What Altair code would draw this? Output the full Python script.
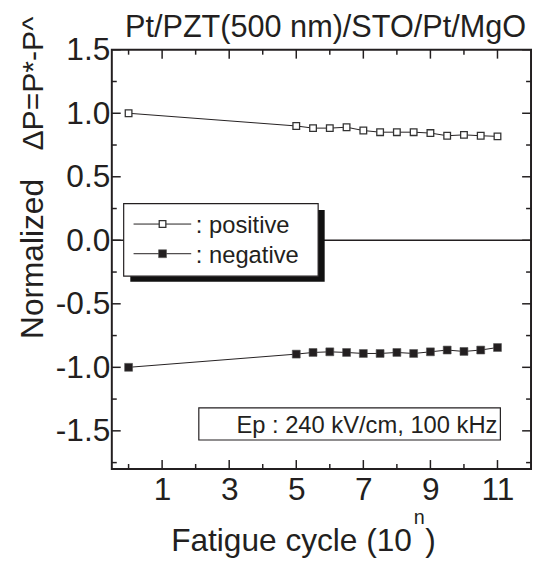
import altair as alt
import pandas as pd

# ---- data ----
cycles = [0, 5, 5.5, 6, 6.5, 7, 7.5, 8, 8.5, 9, 9.5, 10, 10.5, 11]
positive = [1.00, 0.90, 0.883, 0.883, 0.89, 0.864, 0.851, 0.851, 0.851, 0.844, 0.823, 0.83, 0.823, 0.818]
negative = [-1.00, -0.896, -0.883, -0.878, -0.883, -0.891, -0.891, -0.883, -0.891, -0.878, -0.864, -0.875, -0.864, -0.844]

x_major = [1, 3, 5, 7, 9, 11]
x_minor = [0, 2, 4, 6, 8, 10]
y_major = [-1.5, -1.0, -0.5, 0.0, 0.5, 1.0, 1.5]
y_minor = [-1.75, -1.25, -0.75, -0.25, 0.25, 0.75, 1.25]

title_text = "Pt/PZT(500 nm)/STO/Pt/MgO"
y_title_a = "Normalized"
y_title_b = "\u0394P=P*-P^"
x_title_main = "Fatigue cycle (10"
x_title_sup = "n"
x_title_close = ")"
legend_pos = ": positive"
legend_neg = ": negative"
note_text = "Ep : 240 kV/cm, 100 kHz"

W, H = 424, 424
FONT = "Liberation Sans"
INK = "#231f20"

xs = alt.Scale(domain=[-0.5, 12], nice=False, zero=False)
ys = alt.Scale(domain=[-1.8, 1.5], nice=False, zero=False)

df = pd.DataFrame({"cycle": cycles, "positive": positive, "negative": negative})
one = pd.DataFrame({"k": [0]})

x_axis = alt.Axis(values=x_major, format="d", title=None, ticks=False, domain=False,
                  grid=False, labelPadding=6, labelFontSize=32)
y_axis = alt.Axis(values=y_major, title=None, ticks=False, domain=False,
                  grid=False, labelPadding=2, labelFontSize=32,
                  labelExpr="replace(format(datum.value, '.1f'), '\u2212', '-')")

def X(field):
    return alt.X(field, scale=xs, axis=x_axis)

def Y(field):
    return alt.Y(field, scale=ys, axis=y_axis)

layers = []

# zero line
layers.append(alt.Chart(pd.DataFrame({"z": [0.0]})).mark_rule(color=INK, strokeWidth=1.6).encode(
    y=Y("z:Q")))

# inward ticks (x: top & bottom, y: left & right)
def xticks(vals, length):
    d = pd.DataFrame({"v": vals})
    top = alt.Chart(d).mark_rule(color=INK, strokeWidth=1.5).encode(
        x=X("v:Q"), y=alt.value(0), y2=alt.value(length))
    bot = alt.Chart(d).mark_rule(color=INK, strokeWidth=1.5).encode(
        x=X("v:Q"), y=alt.value(H), y2=alt.value(H - length))
    return [top, bot]

def yticks(vals, length):
    d = pd.DataFrame({"v": vals})
    left = alt.Chart(d).mark_rule(color=INK, strokeWidth=1.5).encode(
        y=Y("v:Q"), x=alt.value(0), x2=alt.value(length))
    right = alt.Chart(d).mark_rule(color=INK, strokeWidth=1.5).encode(
        y=Y("v:Q"), x=alt.value(W), x2=alt.value(W - length))
    return [left, right]

layers += xticks(x_major, 9) + xticks(x_minor, 5) + yticks(y_major, 9) + yticks(y_minor, 5)

# data lines and markers
layers.append(alt.Chart(df).mark_line(color=INK, strokeWidth=1).encode(
    x=X("cycle:Q"), y=Y("positive:Q")))
layers.append(alt.Chart(df).mark_line(color=INK, strokeWidth=1).encode(
    x=X("cycle:Q"), y=Y("negative:Q")))
layers.append(alt.Chart(df).mark_square(fill="white", stroke="#333333", strokeWidth=1.3,
                                        size=45, opacity=1).encode(
    x=X("cycle:Q"), y=Y("positive:Q")))
layers.append(alt.Chart(df).mark_square(fill=INK, stroke="#555555", strokeWidth=0.6,
                                        size=64, opacity=1).encode(
    x=X("cycle:Q"), y=Y("negative:Q")))

# legend box with shadow
layers.append(alt.Chart(one).mark_rect(color="#111111").encode(
    x=alt.value(18.7), x2=alt.value(215.3), y=alt.value(162), y2=alt.value(234.7)))
layers.append(alt.Chart(one).mark_rect(fill="white", stroke=INK, strokeWidth=1.2).encode(
    x=alt.value(12), x2=alt.value(208.7), y=alt.value(155.7), y2=alt.value(229)))
for yy, filled, label in [(176.3, False, legend_pos), (206.3, True, legend_neg)]:
    layers.append(alt.Chart(one).mark_rule(color=INK, strokeWidth=1).encode(
        x=alt.value(22), x2=alt.value(80.3), y=alt.value(yy)))
    if filled:
        sq = alt.Chart(one).mark_square(fill=INK, stroke="#555555", strokeWidth=0.6, size=64, opacity=1)
    else:
        sq = alt.Chart(one).mark_square(fill="white", stroke="#333333", strokeWidth=1.3, size=45, opacity=1)
    layers.append(sq.encode(x=alt.value(51.3), y=alt.value(yy)))
    layers.append(alt.Chart(one).mark_text(align="left", baseline="alphabetic", font=FONT,
                                           fontSize=24, color=INK).encode(
        x=alt.value(85), y=alt.value(yy + 9.4), text=alt.value(label)))

# annotation box
layers.append(alt.Chart(one).mark_rect(fill="white", stroke=INK, strokeWidth=1.2).encode(
    x=alt.value(88), x2=alt.value(393), y=alt.value(362.3), y2=alt.value(394.7)))
layers.append(alt.Chart(one).mark_text(align="right", baseline="alphabetic", font=FONT,
                                       fontSize=24, color=INK).encode(
    x=alt.value(390), y=alt.value(388), text=alt.value(note_text)))

# titles
layers.append(alt.Chart(one).mark_text(align="right", baseline="alphabetic", font=FONT,
                                       fontSize=31, color=INK).encode(
    x=alt.value(419), y=alt.value(-12.5), text=alt.value(title_text)))
layers.append(alt.Chart(one).mark_text(align="left", baseline="alphabetic", font=FONT,
                                       fontSize=32, color=INK, angle=270).encode(
    x=alt.value(-70), y=alt.value(292.5), text=alt.value(y_title_a)))
layers.append(alt.Chart(one).mark_text(align="left", baseline="alphabetic", font=FONT,
                                       fontSize=30.5, color=INK, angle=270).encode(
    x=alt.value(-70), y=alt.value(102), text=alt.value(y_title_b)))
layers.append(alt.Chart(one).mark_text(align="left", baseline="alphabetic", font=FONT,
                                       fontSize=32, color=INK).encode(
    x=alt.value(60), y=alt.value(507), text=alt.value(x_title_main)))
layers.append(alt.Chart(one).mark_text(align="left", baseline="alphabetic", font=FONT,
                                       fontSize=20, color=INK).encode(
    x=alt.value(305.5), y=alt.value(480), text=alt.value(x_title_sup)))
layers.append(alt.Chart(one).mark_text(align="left", baseline="alphabetic", font=FONT,
                                       fontSize=32, color=INK).encode(
    x=alt.value(317), y=alt.value(507), text=alt.value(x_title_close)))

chart = alt.layer(*layers).properties(
    width=W, height=H,
    autosize=alt.AutoSizeParams(type="none"),
    padding={"left": 105, "top": 39, "right": 2, "bottom": 100},
).configure_view(stroke=INK, strokeWidth=2).configure_axis(
    labelFont=FONT, labelColor=INK
)

chart.save("out.html", embed_options={"renderer": "svg", "actions": False})
